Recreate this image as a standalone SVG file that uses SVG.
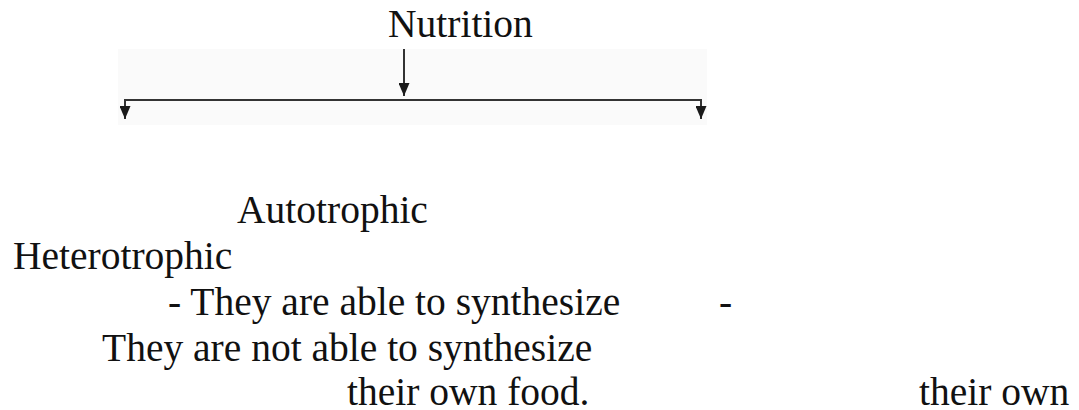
<svg xmlns="http://www.w3.org/2000/svg" width="1079" height="410" viewBox="0 0 1079 410">
  <style>
    .t { font-family: "Liberation Serif", "Times New Roman", serif; font-size: 39.5px; fill: #111; }
    .c { stroke: #333; stroke-width: 2; fill: none; }
  </style>
  <defs>
    <marker id="ah" viewBox="0 0 13 11" refX="13" refY="5.5" markerWidth="13" markerHeight="11" markerUnits="userSpaceOnUse" orient="auto">
      <path d="M0,0 L13,5.5 L0,11 Z" fill="#1a1a1a"/>
    </marker>
  </defs>
  <rect width="1079" height="410" fill="#ffffff"/>
  <rect x="118" y="49" width="589" height="76" fill="#fafafa"/>
  <g id="connectors">
    <line class="c" x1="404" y1="49" x2="404" y2="96" marker-end="url(#ah)"/>
    <line class="c" x1="124" y1="100" x2="702" y2="100"/>
    <line class="c" x1="125" y1="99" x2="125" y2="119" marker-end="url(#ah)"/>
    <line class="c" x1="701" y1="99" x2="701" y2="119" marker-end="url(#ah)"/>
  </g>
  <g id="nutrition"><text class="t" x="388" y="37">Nutrition</text></g>
  <g id="autotrophic"><text class="t" x="237" y="223">Autotrophic</text></g>
  <g id="heterotrophic"><text class="t" x="13" y="269">Heterotrophic</text></g>
  <g id="auto-desc">
    <text class="t" x="168" y="315">- They are able to synthesize</text>
    <text class="t" x="347" y="405">their own food.</text>
  </g>
  <g id="hetero-desc">
    <text class="t" x="719" y="315">-</text>
    <text class="t" x="102" y="361">They are not able to synthesize</text>
    <text class="t" x="919" y="405">their own</text>
  </g>
</svg>
